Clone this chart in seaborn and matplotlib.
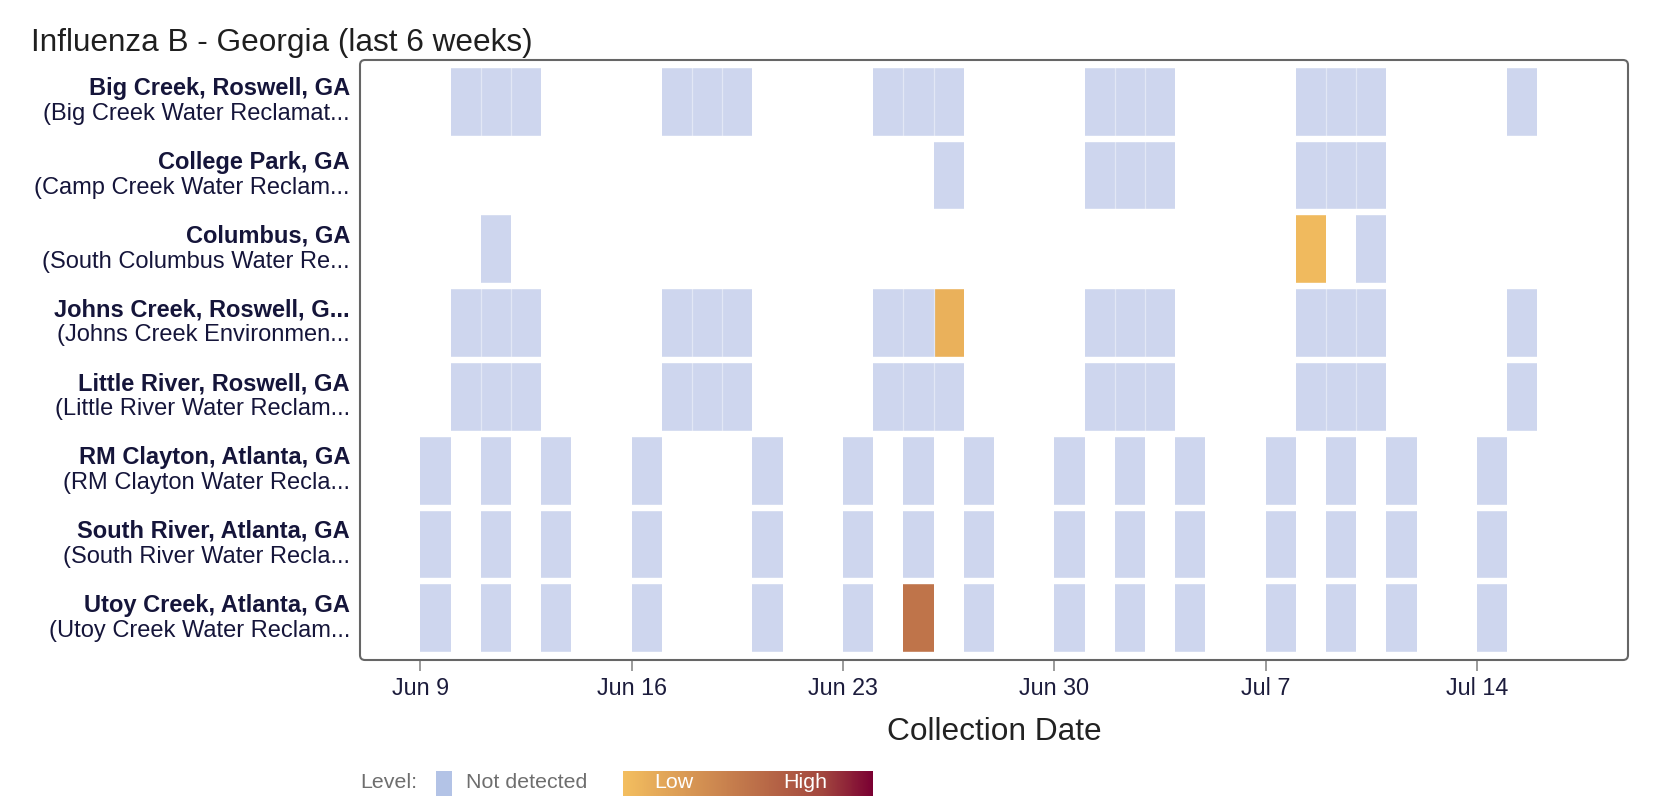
import numpy as np
import pandas as pd
import matplotlib
matplotlib.use("Agg")
import matplotlib.pyplot as plt
import seaborn as sns
from matplotlib.colors import ListedColormap, LinearSegmentedColormap, Normalize
from matplotlib.patches import Rectangle, FancyBboxPatch
from matplotlib.transforms import IdentityTransform
import matplotlib.cm as cm

sns.set_theme(style="white")
plt.rcParams["font.family"] = ["Liberation Sans", "DejaVu Sans"]

# ---------------- data ----------------
YEAR = 2024
title = "Influenza B - Georgia (last 6 weeks)"
sites = ["Big Creek, Roswell, GA", "College Park, GA", "Columbus, GA",
         "Johns Creek, Roswell, G...", "Little River, Roswell, GA",
         "RM Clayton, Atlanta, GA", "South River, Atlanta, GA", "Utoy Creek, Atlanta, GA"]
plants = ["(Big Creek Water Reclamat...", "(Camp Creek Water Reclam...",
          "(South Columbus Water Re...", "(Johns Creek Environmen...",
          "(Little River Water Reclam...", "(RM Clayton Water Recla...",
          "(South River Water Recla...", "(Utoy Creek Water Reclam..."]

roswell_dates = ["06-10", "06-11", "06-12", "06-17", "06-18", "06-19", "06-24", "06-25",
                 "06-26", "07-01", "07-02", "07-03", "07-08", "07-09", "07-10", "07-15"]
college_dates = ["06-26", "07-01", "07-02", "07-03", "07-08", "07-09", "07-10"]
columbus_dates = ["06-11", "07-08", "07-10"]
atlanta_dates = ["06-09", "06-11", "06-13", "06-16", "06-20", "06-23", "06-25", "06-27",
                 "06-30", "07-02", "07-04", "07-07", "07-09", "07-11", "07-14"]
sample_dates = [roswell_dates, college_dates, columbus_dates, roswell_dates,
                roswell_dates, atlanta_dates, atlanta_dates, atlanta_dates]

# detections: (site index, date, relative level 0..1)
det_sites = [2, 3, 7]
det_dates = ["07-08", "06-26", "06-25"]
det_levels = [0.03, 0.09, 0.50]

axis_start, axis_end = f"{YEAR}-06-07", f"{YEAR}-07-18"
tick_start, n_ticks = f"{YEAR}-06-09", 6

level_stops = [0.0, 0.5, 0.8, 1.0]
level_colors = ["#F3BE5F", "#BF744A", "#A2463E", "#7A0032"]
nd_color = "#CED6EE"
nd_legend_color = "#B3C3E6"

# ---------------- matrices ----------------
days = pd.date_range(axis_start, axis_end, freq="D")
n = len(days)
nd = np.full((len(sites), n), np.nan)
lv = np.full((len(sites), n), np.nan)
for r, ds in enumerate(sample_dates):
    for d in ds:
        nd[r, days.get_loc(pd.Timestamp(f"{YEAR}-{d}"))] = 1.0
for r, d, v in zip(det_sites, det_dates, det_levels):
    c = days.get_loc(pd.Timestamp(f"{YEAR}-{d}"))
    nd[r, c] = np.nan
    lv[r, c] = v

level_cmap = LinearSegmentedColormap.from_list("lvl", list(zip(level_stops, level_colors)))

# ---------------- figure ----------------
W, H = 1668, 810
fig = plt.figure(figsize=(W / 100, H / 100), dpi=100)
fig.patch.set_facecolor("white")
ax = fig.add_axes([360 / W, 1 - 660 / H, 1268 / W, 600 / H])

sns.heatmap(nd, ax=ax, cmap=ListedColormap([nd_color]), vmin=0, vmax=1,
            cbar=False, xticklabels=False, yticklabels=False)
sns.heatmap(lv, ax=ax, cmap=level_cmap, vmin=0, vmax=1,
            cbar=False, xticklabels=False, yticklabels=False)

filled = ~np.isnan(nd) | ~np.isnan(lv)
rr, cc = np.nonzero(filled[:, 1:] & filled[:, :-1])
ax.vlines(cc + 1, rr, rr + 1, color="#E2E7F5", lw=0.9, zorder=3)
ax.hlines(np.arange(len(sites) + 1), -1, n + 1, color="white", lw=6.4 * 0.72, zorder=4)

ax.set_xlim(0, n)
ax.set_ylim(len(sites) + 0.065, -0.065)

tick_days = pd.date_range(tick_start, periods=n_ticks, freq="7D")
ax.set_xticks([days.get_loc(d) for d in tick_days])
ax.set_xticklabels([f"{d:%b} {d.day}" for d in tick_days], fontsize=16.8, color="#1c1c3c", rotation=0)
ax.set_yticks([])
ax.tick_params(axis="x", bottom=True, length=7.9, width=1.1, color="#808080", pad=4.3)
for s in ax.spines.values():
    s.set_visible(False)

trans = ax.get_yaxis_transform()
for r in range(len(sites)):
    ax.text(-10 / 1268, r + 0.5 - 0.092, sites[r], transform=trans, ha="right", va="baseline",
            fontsize=17, fontweight="bold", color="#15153a")
    ax.text(-10 / 1268, r + 0.5 + 0.247, plants[r], transform=trans, ha="right", va="baseline",
            fontsize=17, color="#15153a")

frame = FancyBboxPatch((360, H - 660), 1268, 600, boxstyle="round,pad=0,rounding_size=5",
                       transform=IdentityTransform(), fill=False, ec="#666666", lw=1.5, zorder=10)
fig.add_artist(frame)

fig.text(31 / W, 1 - 51 / H, title, fontsize=22.7, va="baseline", ha="left", color="#1f1f1f")
fig.text(994 / W, 1 - 740 / H, "Collection Date", fontsize=22.8, va="baseline", ha="center", color="#222222")

# ---------------- legend ----------------
ly = 1 - 783 / H
fig.text(360 / W, ly, "Level:", fontsize=15.4, va="center", ha="left", color="#6e6e6e")
fig.add_artist(Rectangle((436 / W, 1 - 796 / H), 16 / W, 25 / H, transform=fig.transFigure,
                         facecolor=nd_legend_color, edgecolor="none"))
fig.text(466 / W, ly, "Not detected", fontsize=15.4, va="center", ha="left", color="#6e6e6e")
cax = fig.add_axes([623 / W, 1 - 796 / H, 250 / W, 25 / H])
cb = fig.colorbar(cm.ScalarMappable(norm=Normalize(0, 1), cmap=level_cmap), cax=cax, orientation="horizontal")
cb.outline.set_visible(False)
cax.set_xticks([])
cax.set_yticks([])
fig.text(654 / W, ly, "Low", fontsize=15.4, va="center", ha="left", color="white")
fig.text(783 / W, ly, "High", fontsize=15.4, va="center", ha="left", color="white")

fig.savefig("out.png", dpi=100)
